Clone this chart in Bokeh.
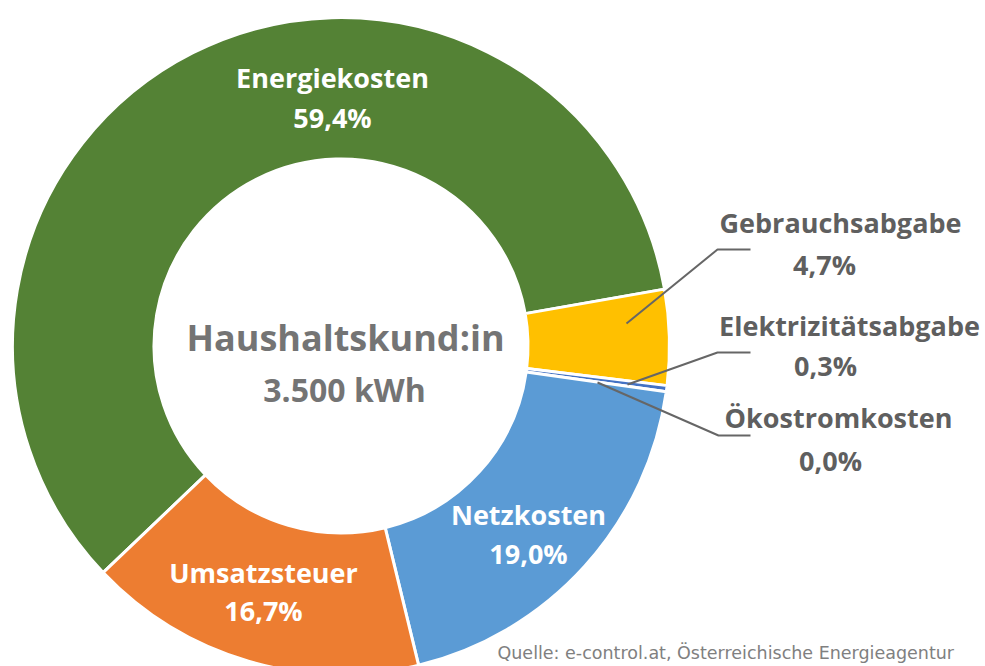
import math
from bokeh.plotting import figure
from bokeh.models import Range1d, ColumnDataSource
from bokeh.core.properties import value
from bokeh.embed import file_html
from bokeh.resources import INLINE

# ---- data ----
categories = ["Energiekosten", "Gebrauchsabgabe", "Elektrizitätsabgabe",
              "Ökostromkosten", "Netzkosten", "Umsatzsteuer"]
shares = [59.4, 4.7, 0.3, 0.0, 19.0, 16.7]
share_labels = ["59,4%", "4,7%", "0,3%", "0,0%", "19,0%", "16,7%"]
colors = ["#548235", "#FFC000", "#4472C4", "#A5A5A5", "#5B9BD5", "#ED7D31"]
center_title = "Haushaltskund:in"
center_sub = "3.500 kWh"
source_text = "Quelle: e-control.at, Österreichische Energieagentur"

W, H = 985, 666
CX, CY = 340.5, 345.5          # pixel centre of donut
R_OUT, R_IN = 328.5, 187.0
START_DEG = 223.6              # first slice start, going clockwise

def Y(py):
    return H - py

total = sum(shares)
starts, ends, cols, names = [], [], [], []
cum = 0.0
for c, v, col in zip(categories, shares, colors):
    a0 = START_DEG - cum / total * 360.0
    cum += v
    a1 = START_DEG - cum / total * 360.0
    if v > 0:
        starts.append(math.radians(a1))
        ends.append(math.radians(a0))
        cols.append(col)
        names.append(c)

src = ColumnDataSource(dict(start=starts, end=ends, color=cols, name=names))

p = figure(width=W, height=H, output_backend="svg", toolbar_location=None,
           x_range=Range1d(0, W), y_range=Range1d(0, H),
           x_axis_type=None, y_axis_type=None, min_border=0,
           background_fill_color="white", border_fill_color="white")
p.outline_line_color = None
p.grid.visible = False

p.annular_wedge(x=CX, y=Y(CY), inner_radius=R_IN, outer_radius=R_OUT,
                start_angle="start", end_angle="end", direction="anticlock",
                fill_color="color", line_color="white", line_width=3, source=src)

FONT = value("Open Sans")

inner = {
    "Energiekosten": (332, 77, 117),
    "Netzkosten": (528, 514, 553),
    "Umsatzsteuer": (263, 572, 610),
}
for i, c in enumerate(categories):
    if c in inner:
        x, y1, y2 = inner[c]
        p.text(x=[x, x], y=[Y(y1), Y(y2)], text=[c, share_labels[i]],
               text_font=FONT, text_font_style="bold", text_font_size="27px",
               text_color="white", text_align="center", text_baseline="middle")

outer = {
    "Gebrauchsabgabe": (840, 222, 824, 264, [626, 717, 750], [323, 249, 249]),
    "Elektrizitätsabgabe": (849, 325, 825, 365, [627, 717, 750], [384, 352, 352]),
    "Ökostromkosten": (838, 417, 830, 460, [597, 718, 750], [382, 435, 435]),
}
GREY = "#5f5f5f"
for i, c in enumerate(categories):
    if c in outer:
        x1, y1, x2, y2, lx, ly = outer[c]
        p.line(x=lx, y=[Y(v) for v in ly], line_color="#666666", line_width=2)
        p.text(x=[x1, x2], y=[Y(y1), Y(y2)], text=[c, share_labels[i]],
               text_font=FONT, text_font_style="bold", text_font_size="27px",
               text_color=GREY, text_align="center", text_baseline="middle")

p.text(x=[345], y=[Y(337)], text=[center_title], text_font=FONT,
       text_font_style="bold", text_font_size="36px", text_color="#747474",
       text_align="center", text_baseline="middle")
p.text(x=[344], y=[Y(389)], text=[center_sub], text_font=FONT,
       text_font_style="bold", text_font_size="32px", text_color="#747474",
       text_align="center", text_baseline="middle")

p.text(x=[497], y=[Y(652)], text=[source_text], text_font=value("DejaVu Sans"),
       text_font_size="17.5px", text_color="#808080",
       text_align="left", text_baseline="alphabetic")

open("out.html", "w").write(file_html(p, INLINE))
